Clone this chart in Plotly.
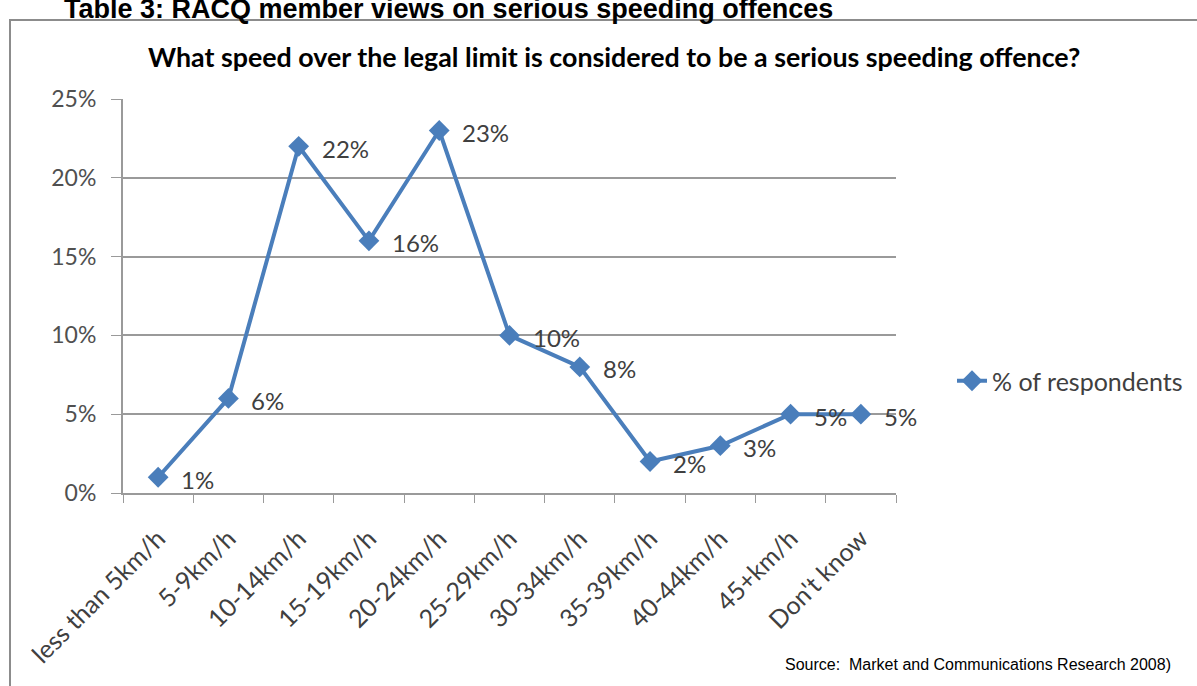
import plotly.graph_objects as go

categories = ["less than 5km/h", "5-9km/h", "10-14km/h", "15-19km/h", "20-24km/h",
              "25-29km/h", "30-34km/h", "35-39km/h", "40-44km/h", "45+km/h", "Don't know"]
respondents = [0.01, 0.06, 0.22, 0.16, 0.23, 0.10, 0.08, 0.02, 0.03, 0.05, 0.05]
series_name = "% of respondents"
y_ticks = [0, 0.05, 0.10, 0.15, 0.20, 0.25]

W, H = 1197, 686
L, R, T, B = 123, 896, 99, 493

FONT = "Lato"
TXT = "#404040"
BLUE = "#4A7EBB"
GRID = "#9a9a9a"


def px(xp):
    return (xp - L) / (R - L)


def py(yp):
    return (B - yp) / (B - T)


fig = go.Figure()
fig.add_trace(go.Scatter(
    x=categories, y=respondents, mode="lines+markers", name=series_name,
    line=dict(color=BLUE, width=4),
    marker=dict(symbol="diamond", size=16, color=BLUE),
))

annotations = []
for c, v in zip(categories, respondents):
    annotations.append(dict(
        x=c, y=v, xref="x", yref="y", text=f"{v*100:.0f}%", showarrow=False,
        xanchor="left", yanchor="middle", xshift=21, yshift=-2,
        font=dict(family=FONT, size=24, color=TXT)))

annotations.append(dict(
    x=px(614), y=py(57), xref="paper", yref="paper",
    text="<b>What speed over the legal limit is considered to be a serious speeding offence?</b>",
    showarrow=False, xanchor="center", yanchor="middle",
    font=dict(family=FONT, size=26.8, color="#000000")))

annotations.append(dict(
    x=px(62), y=py(9), xref="paper", yref="paper",
    text="<b>Table 3: RACQ member views on serious speeding offences</b>",
    showarrow=False, xanchor="left", yanchor="middle",
    font=dict(family="Liberation Sans", size=27, color="#000000")))

annotations.append(dict(
    x=px(1173), y=py(664), xref="paper", yref="paper",
    text="Source:  Market and Communications Research 2008)",
    showarrow=False, xanchor="right", yanchor="middle",
    font=dict(family="Liberation Sans", size=16, color="#000000")))

shapes = [dict(
    type="rect", xref="paper", yref="paper",
    x0=px(10), x1=px(1215), y0=py(710), y1=py(20),
    line=dict(color="#8c8c8c", width=2), fillcolor="rgba(0,0,0,0)", layer="below")]

fig.update_layout(
    width=W, height=H,
    margin=dict(l=L, r=W - R, t=T, b=H - B, pad=0, autoexpand=False),
    paper_bgcolor="white", plot_bgcolor="white",
    showlegend=True,
    legend=dict(x=px(952), y=py(381), xanchor="left", yanchor="middle",
                font=dict(family=FONT, size=25, color=TXT), bgcolor="rgba(0,0,0,0)"),
    annotations=annotations, shapes=shapes,
    font=dict(family=FONT, color=TXT),
)
fig.update_xaxes(
    type="category", tickangle=-45, tickson="boundaries",
    ticks="outside", ticklen=8, tickcolor=GRID,
    showline=True, linecolor=GRID, linewidth=2,
    showgrid=False, tickfont=dict(family=FONT, size=25, color=TXT),
    ticklabelstandoff=19, automargin=False,
    range=[-0.5, len(categories) - 0.5])
fig.update_yaxes(
    range=[0, 0.25], tickvals=y_ticks, tickformat=".0%",
    ticks="outside", ticklen=10, tickcolor=GRID,
    showline=True, linecolor=GRID, linewidth=2,
    showgrid=True, gridcolor=GRID, gridwidth=1.5, automargin=False,
    zeroline=False, ticklabelstandoff=10,
    tickfont=dict(family=FONT, size=23, color="#505050"))

fig.write_html("out.html", config={"displayModeBar": False},
               post_script="document.body.style.margin='0px';")
